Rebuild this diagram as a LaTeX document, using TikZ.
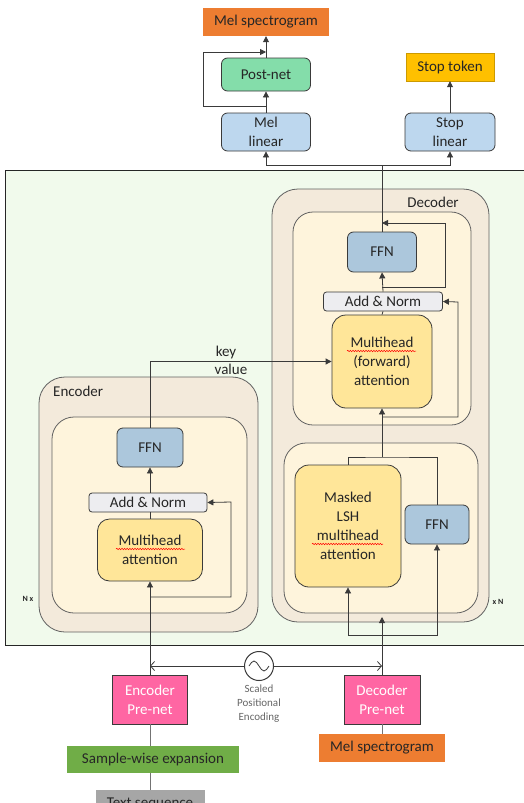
\documentclass[tikz,border=0pt]{standalone}
\usepackage{fontspec}
\setmainfont{Carlito}
\usetikzlibrary{arrows.meta,decorations.pathmorphing,calc}
\definecolor{bggreen}{HTML}{F1FAEC}
\definecolor{outerbeige}{HTML}{F3EADB}
\definecolor{innercream}{HTML}{FEF4DC}
\definecolor{mhyellow}{HTML}{FFE699}
\definecolor{ffnblue}{HTML}{ACC7DC}
\definecolor{linblue}{HTML}{BDD7EE}
\definecolor{postgreen}{HTML}{84DDAA}
\definecolor{angray}{HTML}{EDEDF0}
\definecolor{prepink}{HTML}{FF66A3}
\definecolor{stopgold}{HTML}{FFC000}
\definecolor{melorange}{HTML}{ED7D31}
\definecolor{samplegreen}{HTML}{70AD47}
\definecolor{textgray}{HTML}{A6A6A6}
\definecolor{linec}{HTML}{3A3A3A}
\definecolor{txt}{HTML}{262626}
\tikzset{
  boxed/.style={draw=linec, line width=0.8pt, rounded corners=6pt, inner sep=0pt, align=center,
    font=\fontsize{15}{19}\selectfont, text=txt},
  flat/.style={inner sep=0pt, align=center, font=\fontsize{15}{19}\selectfont, text=txt},
  sq/.style={draw=linec, line width=0.8pt, inner sep=0pt, align=center,
    font=\fontsize{15}{19}\selectfont, text=white},
  arr/.style={draw=linec, line width=0.8pt, -{Triangle[length=6pt,width=6pt]}},
  barb/.style={draw=linec, line width=0.8pt, -{Straight Barb[length=4pt,width=9pt]}},
  ln/.style={draw=linec, line width=0.8pt},
  region/.style={draw=linec!80, line width=0.8pt},
  wavy/.style={draw=red, line width=0.5pt, decorate, decoration={snake, amplitude=0.7pt, segment length=2.6pt}},
  lbl/.style={inner sep=0pt, font=\fontsize{15}{17}\selectfont, text=txt},
  small/.style={inner sep=0pt, font=\bfseries\fontsize{8}{10}\selectfont, text=txt}
}
\begin{document}
\begin{tikzpicture}[x=1pt,y=-1pt]
\useasboundingbox (0,0) rectangle (524,803);
\clip (0,0) rectangle (524,803);
\fill[white] (0,0) rectangle (524,803);
% background
\draw[line width=0.9pt, draw=black!85, fill=bggreen] (5,170) rectangle (540,645);
% encoder / decoder regions
\draw[region, fill=outerbeige, rounded corners=26pt] (272,189) rectangle (489,622);
\draw[region, fill=innercream, rounded corners=20pt] (293,212) rectangle (471,425);
\draw[region, fill=innercream, rounded corners=22pt] (284,443) rectangle (478,613);
\draw[region, fill=outerbeige, rounded corners=26pt] (39,377) rectangle (258,632);
\draw[region, fill=innercream, rounded corners=22pt] (52,417) rectangle (247,613);
\node[lbl, anchor=center] (declbl) at (433,202) {Decoder};
\node[lbl, anchor=west] (enclbl) at (53,391) {Encoder};
\node[small] (nx) at (28,599) {N x};
\node[small] (xn) at (498,602) {x N};

% top outputs
\node[flat, fill=melorange, minimum width=126, minimum height=28] (meltop) at (266,22) {Mel spectrogram};
\node[boxed, fill=postgreen, minimum width=89, minimum height=33] (postnet) at (266,74.5) {Post-net};
\node[boxed, fill=linblue, minimum width=89, minimum height=38] (mellin) at (266,132) {Mel\\linear};
\node[flat, fill=stopgold, draw=stopgold!80!black, minimum width=88, minimum height=28] (stoptok) at (450,67) {Stop token};
\node[boxed, fill=linblue, minimum width=90, minimum height=38] (stoplin) at (450,132) {Stop\\linear};

% decoder nodes
\node[boxed, fill=ffnblue, minimum width=69, minimum height=40] (decffn) at (382,252) {FFN};
\node[boxed, fill=angray, rounded corners=3pt, minimum width=119, minimum height=19] (decan) at (383,301.5) {Add \& Norm};
\node[boxed, fill=mhyellow, rounded corners=14pt, minimum width=100, minimum height=93] (decmh) at (382,361.5) {Multihead\\(forward)\\attention};
\node[boxed, fill=mhyellow, rounded corners=14pt, minimum width=106, minimum height=122] (masked) at (348,526) {Masked\\LSH\\multihead\\attention};
\node[boxed, fill=ffnblue, minimum width=64, minimum height=39] (lowffn) at (437,524.5) {FFN};

% encoder nodes
\node[boxed, fill=ffnblue, minimum width=66, minimum height=39] (encffn) at (150,447.5) {FFN};
\node[boxed, fill=angray, rounded corners=3pt, minimum width=118, minimum height=19] (encan) at (148,502.5) {Add \& Norm};
\node[boxed, fill=mhyellow, rounded corners=12pt, minimum width=105, minimum height=62] (encmh) at (150,550) {Multihead\\attention};

% bottom inputs
\node[sq, fill=prepink, minimum width=75, minimum height=49] (encpre) at (150,699.5) {Encoder\\Pre-net};
\node[sq, fill=prepink, minimum width=76, minimum height=49] (decpre) at (382,699.5) {Decoder\\Pre-net};
\node[flat, fill=samplegreen, minimum width=172, minimum height=27] (sample) at (153,759.5) {Sample-wise expansion};
\node[flat, fill=textgray, minimum width=109, minimum height=27] (textseq) at (150,803.5) {Text sequence};
\node[flat, fill=melorange, minimum width=126, minimum height=28] (melbot) at (382,748) {Mel spectrogram};

% positional encoding
\node[draw=linec, line width=1pt, circle, minimum size=29, inner sep=0pt] (pe) at (259,666) {};
\draw[linec, line width=0.8pt] ($(pe.center)+(-10,0)$) sin ($(pe.center)+(-5,-5)$) cos (pe.center) sin ($(pe.center)+(5,5)$) cos ($(pe.center)+(10,0)$);
\node[inner sep=0pt, align=center, font=\fontsize{11}{14}\selectfont, text=black!60] (pelbl) at (259,704) {Scaled\\Positional\\Encoding};

% spell-check marks
\draw[wavy] (347,351) -- (416,351);
\draw[wavy] (116,549) -- (185,549);
\draw[wavy] (312,544) -- (383,544);

% coordinates
\coordinate (split) at (382,165);
\coordinate (plA) at (266,106);
\coordinate (plB) at (203,106);
\coordinate (plC) at (203,52);
\coordinate (plD) at (266,52);
\coordinate (d1a) at (382,287);
\coordinate (d1b) at (445,287);
\coordinate (d1c) at (445,223);
\coordinate (d1d) at (382,223);
\coordinate (d2a) at (382,417);
\coordinate (d2b) at (458,417);
\coordinate (d2c) at (458,302);
\coordinate (lowtop) at (382,457);
\coordinate (lowbot) at (382,635);
\coordinate (lowin) at (382,617);
\coordinate (e1a) at (150,597);
\coordinate (e1b) at (231,597);
\coordinate (e1c) at (231,502);
\coordinate (peL) at (150,666);
\coordinate (peR) at (382,666);

% top connectors
\draw[arr] (mellin.north) -- (postnet.south);
\draw[arr] (plA) -- (plB) -- (plC) -- (plD);
\draw[arr] (postnet.north) -- (meltop.south);
\draw[arr] (stoplin.north) -- (stoptok.south);
\draw[ln] (decffn.north) -- (split);
\draw[arr] (split) -| (mellin.south);
\draw[arr] (split) -| (stoplin.south);

% decoder connectors
\draw[arr] (d1a) -- (d1b) -- (d1c) -- (d1d);
\draw[arr] (decan.north) -- (decffn.south);
\draw[ln] (decmh.north) -- (decan.south);
\draw[arr] (d2a) -- (d2b) -- (d2c) -- (decan.east);
\draw[arr] (lowtop) -- (decmh.south);
\draw[ln] (masked.north) |- (lowtop) -| (lowffn.north);
\draw[arr] (decpre.north) -- (lowin);
\draw[arr] (lowbot) -| (masked.south);
\draw[arr] (lowbot) -| (lowffn.south);

% encoder connectors
\draw[arr] (encpre.north) -- (encmh.south);
\draw[arr] (e1a) -- (e1b) -- (e1c) -- (encan.east);
\draw[ln] (encmh.north) -- (encmh.north |- encan.south);
\draw[arr] (encffn.south |- encan.north) -- (encffn.south);
\draw[arr] (encffn.north) |- (decmh.west);
\node[lbl] (keylbl) at (226,352) {key};
\node[lbl] (vallbl) at (231,369) {value};

% bottom connectors
\draw[ln, draw=black!55] (encpre.south) -- (encpre.south |- sample.north);
\draw[ln, draw=black!55] (encpre.south |- sample.south) -- (textseq.north);
\draw[ln, draw=black!55] (decpre.south) -- (melbot.north);
\draw[barb] (pe.west) -- (peL);
\draw[barb] (pe.east) -- (peR);
\end{tikzpicture}
\end{document}
